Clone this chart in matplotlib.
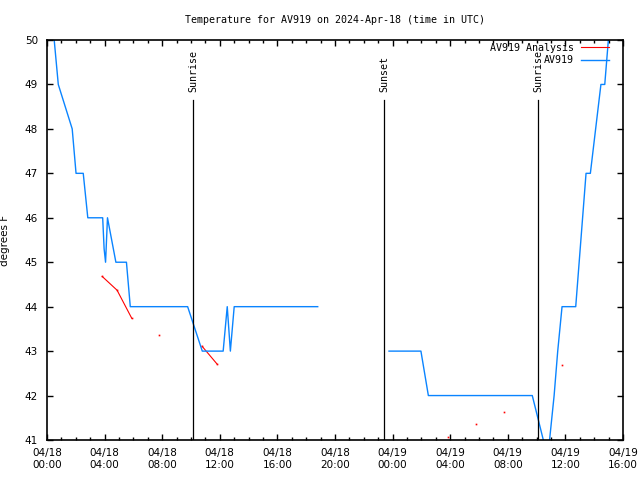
import matplotlib
matplotlib.use("Agg")
import matplotlib.pyplot as plt
import matplotlib.dates as mdates
import numpy as np
import pandas as pd

# ---- data ----
obs_times = ["2024-04-18 00:30", "2024-04-18 00:47", "2024-04-18 01:45", "2024-04-18 02:01",
             "2024-04-18 02:31", "2024-04-18 02:50", "2024-04-18 03:52", "2024-04-18 03:58",
             "2024-04-18 04:04", "2024-04-18 04:12", "2024-04-18 04:47", "2024-04-18 05:31",
             "2024-04-18 05:47", "2024-04-18 09:46", "2024-04-18 10:47", "2024-04-18 12:14",
             "2024-04-18 12:31", "2024-04-18 12:44", "2024-04-18 13:00", "2024-04-18 18:48",
             "2024-04-18 21:00",
             "2024-04-18 23:45", "2024-04-19 01:58", "2024-04-19 02:29", "2024-04-19 09:42",
             "2024-04-19 10:28", "2024-04-19 10:41", "2024-04-19 10:54", "2024-04-19 11:13",
             "2024-04-19 11:28", "2024-04-19 11:46", "2024-04-19 12:43", "2024-04-19 13:26",
             "2024-04-19 13:44", "2024-04-19 14:28", "2024-04-19 14:44", "2024-04-19 14:59",
             "2024-04-19 15:14"]
obs_temps = [50, 49, 48, 47,
             47, 46, 46, 45.3,
             45, 46, 45, 45,
             44, 44, 43, 43,
             44, 43, 44, 44,
             np.nan,
             43, 43, 42, 42,
             41, 40.6, 41, 42,
             43, 44, 44, 47,
             47, 49, 49, 50,
             50.5]

ana_times = ["2024-04-18 03:50", "2024-04-18 04:52", "2024-04-18 05:53", "2024-04-18 06:50",
             "2024-04-18 07:48", "2024-04-18 09:00",
             "2024-04-18 10:46", "2024-04-18 11:50", "2024-04-19 02:00",
             "2024-04-19 03:50", "2024-04-19 04:50", "2024-04-19 05:49", "2024-04-19 06:50",
             "2024-04-19 07:46", "2024-04-19 09:00", "2024-04-19 11:47"]
ana_temps = [44.68, 44.37, 43.74, np.nan,
             43.36, np.nan,
             43.11, 42.70, np.nan,
             41.07, np.nan, 41.37, np.nan,
             41.62, np.nan, 42.68]

sun_events = ["Sunrise", "Sunset", "Sunrise"]
sun_times = ["2024-04-18 10:10", "2024-04-18 23:26", "2024-04-19 10:07"]

x_start, x_end = "2024-04-18 00:00", "2024-04-19 16:00"
y_min, y_max = 41, 50

obs_t = pd.to_datetime(obs_times)
ana_t = pd.to_datetime(ana_times)
sun_t = pd.to_datetime(sun_times)

mono = "DejaVu Sans Mono"
sans = "DejaVu Sans"

fig = plt.figure(figsize=(6.4, 4.8), dpi=100)
ax = fig.add_axes([47/640, 40/480, 576/640, 400/480])

ax.plot(ana_t, ana_temps, color="#ff0000", lw=0.8, marker="s", ms=1.2,
        markeredgewidth=0, label="AV919 Analysis")
ax.plot(obs_t, obs_temps, color="#0a84ff", lw=1.0, label="AV919")

for name, t in zip(sun_events, sun_t):
    ax.axvline(t, ymin=0, ymax=0.85, color="black", lw=0.9)
    ax.text(t, 0.87, name, rotation=90, ha="center", va="bottom",
            transform=ax.get_xaxis_transform(), fontsize=7.2, family=mono)

ax.set_xlim(pd.Timestamp(x_start), pd.Timestamp(x_end))
ax.set_ylim(y_min, y_max)

ax.xaxis.set_major_locator(mdates.HourLocator(byhour=range(0, 24, 4)))
ax.xaxis.set_minor_locator(mdates.HourLocator())
ax.xaxis.set_major_formatter(mdates.DateFormatter("%m/%d\n%H:%M"))
ax.set_yticks(np.arange(y_min, y_max + 1, 1))

ax.tick_params(axis="both", which="both", direction="in", top=True, right=True,
               labelsize=7.5, width=1.0)
ax.tick_params(axis="both", which="major", length=4.5)
ax.tick_params(axis="both", which="minor", length=2.5)
ax.tick_params(axis="y", pad=6.5)
ax.tick_params(axis="x", pad=5.5)
for lab in ax.get_xticklabels():
    lab.set_linespacing(1.35)
for sp in ax.spines.values():
    sp.set_linewidth(1.2)

ax.set_ylabel("degrees F", fontsize=7.5, family=sans)
ax.yaxis.set_label_coords(-37/576, 0.5)
ax.set_title("Temperature for AV919 on 2024-Apr-18 (time in UTC)",
             fontsize=7.2, family=mono, pad=12)

leg = ax.legend(loc="upper right", bbox_to_anchor=(1 - 14/576, 1 - 3/400),
                frameon=False, markerfirst=False, borderaxespad=0, borderpad=0,
                handlelength=2.8, handletextpad=0.7, labelspacing=0.25,
                prop={"family": mono, "size": 7.2})
for h in leg.legend_handles:
    h.set_marker("")

fig.savefig("out.png", dpi=100)
